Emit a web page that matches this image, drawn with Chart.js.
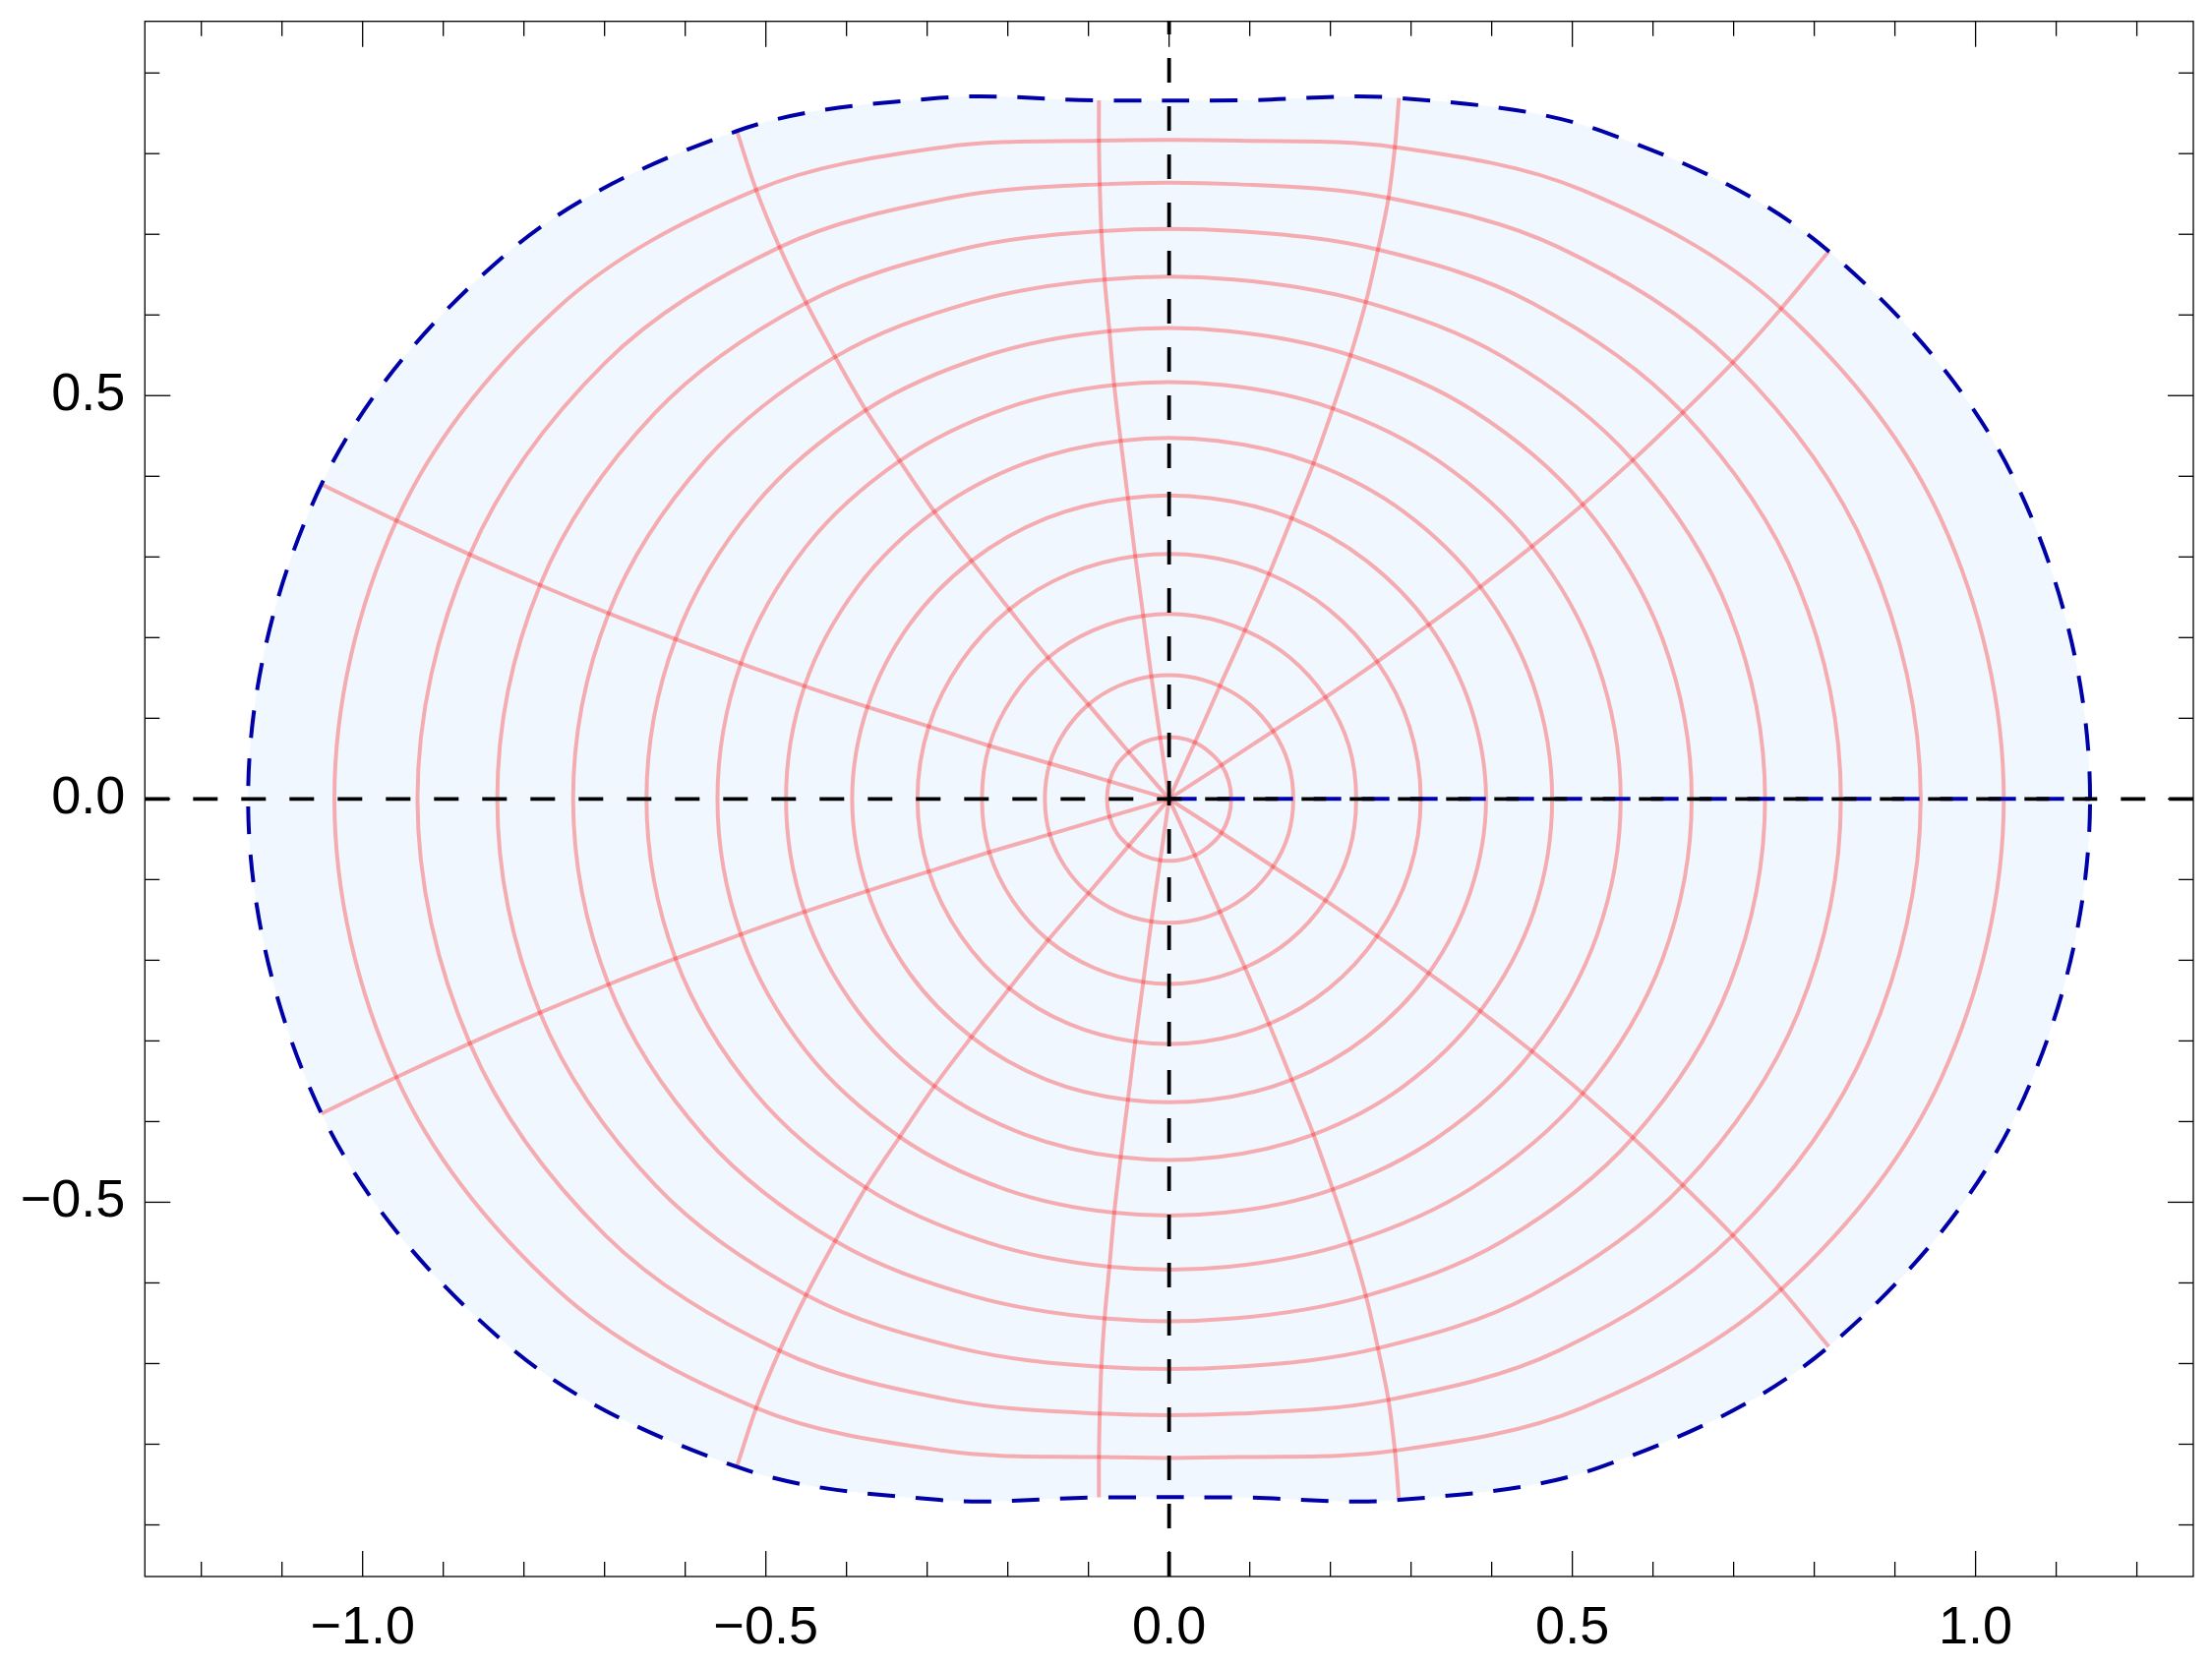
<!DOCTYPE html>
<html>
<head>
<meta charset="utf-8">
<script src="https://cdn.jsdelivr.net/npm/chart.js@4.4.0/dist/chart.umd.min.js"></script>
<style>
  html, body { margin: 0; padding: 0; background: #ffffff; }
  #wrap { width: 2249px; height: 1695px; }
</style>
</head>
<body>
<div id="wrap"><canvas id="c" width="2249" height="1695"></canvas></div>
<script>
// ---- data ----
// Each ring: upper half of one mesh circle, nodes from the positive x-axis (angle 0) round to the negative x-axis.
// The last ring is the outer (dashed blue) boundary.
const ringX = [
  [0.077, 0.074, 0.065, 0.050, 0.032, 0.011, -0.011, -0.032, -0.050, -0.065, -0.074, -0.077],
  [0.154, 0.148, 0.129, 0.100, 0.063, 0.022, -0.022, -0.063, -0.100, -0.129, -0.148, -0.154],
  [0.232, 0.223, 0.194, 0.150, 0.094, 0.032, -0.032, -0.094, -0.150, -0.194, -0.223, -0.232],
  [0.312, 0.298, 0.258, 0.198, 0.124, 0.042, -0.042, -0.124, -0.198, -0.258, -0.298, -0.312],
  [0.393, 0.374, 0.322, 0.245, 0.152, 0.051, -0.051, -0.152, -0.245, -0.322, -0.374, -0.393],
  [0.475, 0.452, 0.386, 0.291, 0.179, 0.060, -0.060, -0.179, -0.291, -0.386, -0.452, -0.475],
  [0.560, 0.531, 0.450, 0.334, 0.203, 0.068, -0.068, -0.203, -0.334, -0.450, -0.531, -0.560],
  [0.648, 0.612, 0.513, 0.376, 0.225, 0.074, -0.074, -0.225, -0.376, -0.513, -0.612, -0.648],
  [0.739, 0.695, 0.575, 0.414, 0.244, 0.080, -0.080, -0.244, -0.414, -0.575, -0.695, -0.739],
  [0.833, 0.780, 0.637, 0.450, 0.259, 0.084, -0.084, -0.259, -0.450, -0.637, -0.780, -0.833],
  [0.932, 0.867, 0.699, 0.483, 0.272, 0.086, -0.086, -0.272, -0.483, -0.699, -0.867, -0.932],
  [1.035, 0.958, 0.759, 0.512, 0.280, 0.087, -0.087, -0.280, -0.512, -0.759, -0.958, -1.035],
  [1.142, 1.051, 0.818, 0.536, 0.285, 0.087, -0.087, -0.285, -0.536, -0.818, -1.051, -1.142]
];
const ringY = [
  [0, 0.022, 0.042, 0.058, 0.070, 0.076, 0.076, 0.070, 0.058, 0.042, 0.022, 0],
  [0, 0.044, 0.084, 0.117, 0.140, 0.152, 0.152, 0.140, 0.117, 0.084, 0.044, 0],
  [0, 0.066, 0.126, 0.175, 0.209, 0.227, 0.227, 0.209, 0.175, 0.126, 0.066, 0],
  [0, 0.090, 0.170, 0.235, 0.279, 0.301, 0.301, 0.279, 0.235, 0.170, 0.090, 0],
  [0, 0.114, 0.216, 0.295, 0.348, 0.373, 0.373, 0.348, 0.295, 0.216, 0.114, 0],
  [0, 0.140, 0.263, 0.356, 0.416, 0.444, 0.444, 0.416, 0.356, 0.263, 0.140, 0],
  [0, 0.168, 0.313, 0.419, 0.484, 0.513, 0.513, 0.484, 0.419, 0.313, 0.168, 0],
  [0, 0.198, 0.365, 0.482, 0.550, 0.580, 0.580, 0.550, 0.482, 0.365, 0.198, 0],
  [0, 0.230, 0.420, 0.548, 0.616, 0.644, 0.644, 0.616, 0.548, 0.420, 0.230, 0],
  [0, 0.265, 0.479, 0.615, 0.681, 0.704, 0.704, 0.681, 0.615, 0.479, 0.265, 0],
  [0, 0.303, 0.541, 0.684, 0.745, 0.762, 0.762, 0.745, 0.684, 0.541, 0.303, 0],
  [0, 0.345, 0.608, 0.755, 0.808, 0.816, 0.816, 0.808, 0.755, 0.608, 0.345, 0],
  [0, 0.390, 0.679, 0.828, 0.869, 0.866, 0.866, 0.869, 0.828, 0.679, 0.390, 0]
];
// ring nodes through which the radial mesh lines pass (upper half; lower half is mirrored)
const rayNodes = [2, 4, 6, 8, 10];

const xTickValues = [-1.0, -0.5, 0.0, 0.5, 1.0];
const xTickLabels = ['\u22121.0', '\u22120.5', '0.0', '0.5', '1.0'];
const yTickValues = [-0.5, 0.0, 0.5];
const yTickLabels = ['\u22120.5', '0.0', '0.5'];
const xMinorTicks = [-1.2, -1.1, -0.9, -0.8, -0.7, -0.6, -0.4, -0.3, -0.2, -0.1, 0.1, 0.2, 0.3, 0.4, 0.6, 0.7, 0.8, 0.9, 1.1, 1.2];
const yMinorTicks = [-0.9, -0.8, -0.7, -0.6, -0.4, -0.3, -0.2, -0.1, 0.1, 0.2, 0.3, 0.4, 0.6, 0.7, 0.8, 0.9];
const axisRange = { xMin: -1.27, xMax: 1.27, yMin: -0.964, yMax: 0.964 };

// ---- styling ----
const MESH = 'rgba(255,0,0,0.3)';
const EDGE = '#0000A8';
const FILL = '#F0F7FE';
const HIDDEN = 'rgba(0,0,0,0)';
const TENSION = 0.34;

// closed loop (both halves) with one wrap-around point on each side so the spline closes smoothly
function closedLoop(k) {
  const n = ringX[k].length;
  const pts = [];
  for (let m = 0; m < n; m++) pts.push({ x: ringX[k][m], y: ringY[k][m] });
  for (let m = n - 2; m >= 1; m--) pts.push({ x: ringX[k][m], y: -ringY[k][m] });
  return [pts[pts.length - 1]].concat(pts, [pts[0], pts[1]]);
}
function hideWrap(len) {
  return ctx => (ctx.p0DataIndex === 0 || ctx.p1DataIndex === len - 1) ? HIDDEN : undefined;
}
function rayLine(m, s) {
  const pts = [{ x: 0, y: 0 }];
  for (let k = 0; k < ringX.length; k++) pts.push({ x: ringX[k][m], y: s * ringY[k][m] });
  return pts;
}

const datasets = [];
const outer = ringX.length - 1;
const outerLoop = closedLoop(outer);
datasets.push({
  data: outerLoop, borderWidth: 0, borderColor: HIDDEN, backgroundColor: FILL,
  fill: 'shape', tension: TENSION, order: 100
});
for (let k = 0; k < outer; k++) {
  const d = closedLoop(k);
  datasets.push({
    data: d, borderColor: MESH, borderWidth: 4, tension: TENSION, fill: false, order: 50,
    segment: { borderColor: hideWrap(d.length) }
  });
}
for (const m of rayNodes) {
  for (const s of [1, -1]) {
    datasets.push({ data: rayLine(m, s), borderColor: MESH, borderWidth: 4, tension: TENSION, fill: false, order: 40 });
  }
}
datasets.push({
  data: [{ x: 0, y: 0 }, { x: ringX[outer][0], y: 0 }],
  borderColor: EDGE, borderWidth: 4, borderDash: [28, 21], tension: 0, fill: false, order: 20
});
datasets.push({
  data: outerLoop, borderColor: EDGE, borderWidth: 4, borderDash: [28, 21], tension: TENSION,
  fill: false, order: 10, segment: { borderColor: hideWrap(outerLoop.length) }
});

const framePlugin = {
  id: 'mmaFrame',
  afterDatasetsDraw(chart) {
    const { ctx, chartArea: a, scales: { x, y } } = chart;
    const x0 = x.getPixelForValue(0), y0 = y.getPixelForValue(0);
    ctx.save();
    ctx.strokeStyle = '#000';
    ctx.lineWidth = 3.8;
    ctx.setLineDash([25, 24]);
    ctx.beginPath(); ctx.moveTo(a.left, y0); ctx.lineTo(a.right, y0); ctx.stroke();
    ctx.beginPath(); ctx.moveTo(x0, a.bottom); ctx.lineTo(x0, a.top); ctx.stroke();
    ctx.restore();
  },
  afterDraw(chart) {
    const { ctx, chartArea: a, scales: { x, y } } = chart;
    ctx.save();
    ctx.strokeStyle = '#000';
    ctx.lineWidth = 1.3;
    ctx.setLineDash([]);
    ctx.strokeRect(a.left, a.top, a.right - a.left, a.bottom - a.top);
    const seg = (x1, y1, x2, y2) => { ctx.beginPath(); ctx.moveTo(x1, y1); ctx.lineTo(x2, y2); ctx.stroke(); };
    const xt = (vals, len) => vals.forEach(v => {
      const p = x.getPixelForValue(v);
      seg(p, a.bottom, p, a.bottom - len); seg(p, a.top, p, a.top + len);
    });
    const yt = (vals, len) => vals.forEach(v => {
      const p = y.getPixelForValue(v);
      seg(a.left, p, a.left + len, p); seg(a.right, p, a.right - len, p);
    });
    xt(xTickValues, 26); xt(xMinorTicks, 15);
    yt(yTickValues, 26); yt(yMinorTicks, 15);
    ctx.restore();
  }
};

Chart.defaults.font.family = '"Liberation Sans", Arial, sans-serif';
Chart.defaults.font.size = 54;
Chart.defaults.color = '#000';

new Chart(document.getElementById('c'), {
  type: 'line',
  data: { datasets },
  options: {
    responsive: false,
    maintainAspectRatio: false,
    animation: false,
    events: [],
    layout: { padding: { left: 0, right: 19, top: 21.7, bottom: 0 } },
    elements: { point: { radius: 0, hoverRadius: 0 } },
    plugins: { legend: { display: false }, tooltip: { enabled: false } },
    scales: {
      x: {
        type: 'linear', min: axisRange.xMin, max: axisRange.xMax,
        grid: { display: false, drawTicks: false }, border: { display: false },
        afterBuildTicks: s => { s.ticks = xTickValues.map(v => ({ value: v })); },
        afterFit: s => { s.height = 92; s.paddingLeft = 0; s.paddingRight = 0; },
        ticks: { padding: 21, autoSkip: false, maxRotation: 0, color: '#000',
                 callback: (v, i) => xTickLabels[i] }
      },
      y: {
        type: 'linear', min: axisRange.yMin, max: axisRange.yMax,
        grid: { display: false, drawTicks: false }, border: { display: false },
        afterBuildTicks: s => { s.ticks = yTickValues.map(v => ({ value: v })); },
        afterFit: s => { s.width = 147.3; s.paddingTop = 0; s.paddingBottom = 0; },
        ticks: { padding: 20, autoSkip: false, color: '#000',
                 callback: (v, i) => yTickLabels[i] }
      }
    }
  },
  plugins: [framePlugin]
});
</script>
</body>
</html>
